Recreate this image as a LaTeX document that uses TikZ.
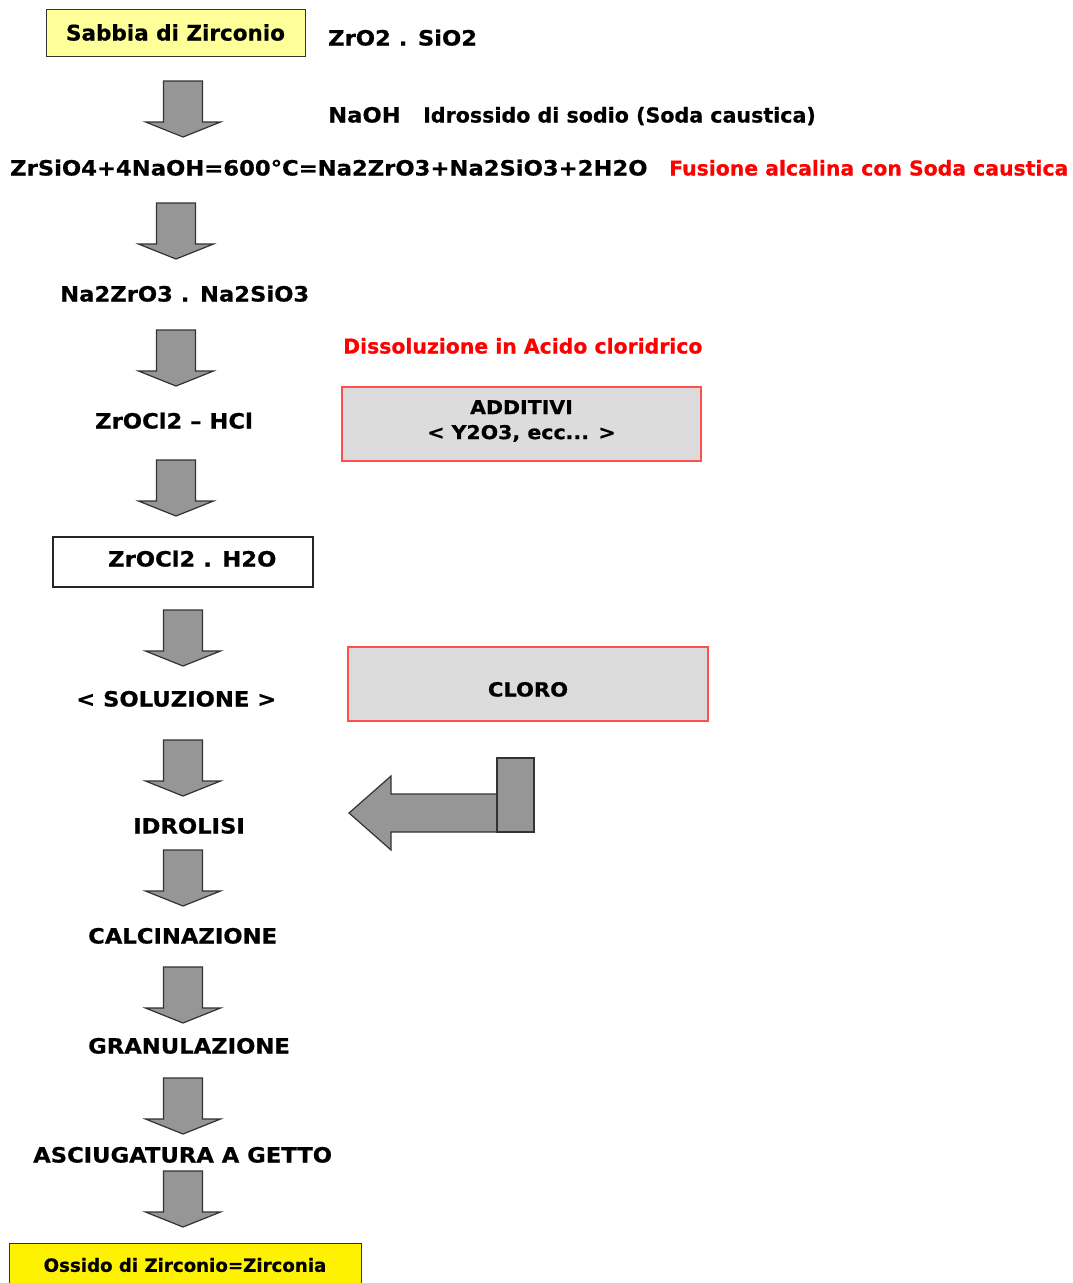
\documentclass[tikz,border=0pt]{standalone}
\usepackage{fontspec}
\setmainfont{DejaVu Sans}[FakeStretch=1.08, BoldFeatures={FakeBold=0.6}]
\newfontfamily\titlefont{DejaVu Sans}[BoldFeatures={FakeBold=0.6}]
\definecolor{paleyellow}{RGB}{255,255,153}
\definecolor{boxred}{RGB}{255,80,80}
\definecolor{boxgrey}{RGB}{220,220,220}
\definecolor{arrowgrey}{RGB}{150,150,150}

\begin{document}
\begin{tikzpicture}[x=1pt, y=-1pt,
  lbl/.style={inner sep=0pt, anchor=west, text height=15pt, text depth=0pt,
    font=\fontsize{21}{25}\selectfont\bfseries},
  prose/.style={lbl, font=\titlefont\fontsize{20.6}{25}\selectfont\bfseries},
  note/.style={lbl, text=red, font=\titlefont\fontsize{20.4}{25}\selectfont\bfseries},
  greybox/.style={draw=boxred, line width=1.8pt, fill=boxgrey, inner sep=0pt,
    align=center, font=\fontsize{19}{25}\selectfont\bfseries},
  blockarrow/.style={draw=black!80, fill=arrowgrey, line width=1.2pt, line join=miter}]
\useasboundingbox (0,0) rectangle (1073,1283);

% start and end boxes
\node[draw=black!80, line width=1pt, fill=paleyellow, minimum width=259, minimum height=47,
  font=\titlefont\fontsize{21.5}{25}\selectfont\bfseries] (sabbia) at (175.5,32.5) {Sabbia di Zirconio};
\node[draw=black!80, line width=1pt, fill=yellow, minimum width=352, minimum height=47, anchor=north] (ossido) at (185,1243) {};
\node[font=\titlefont\fontsize{18.2}{22}\selectfont\bfseries, inner sep=0pt] (ossidotxt) at (185,1265) {Ossido di Zirconio=Zirconia};

% texts
\node[lbl] (zircone) at (328,38) {ZrO2 . SiO2};
\node[lbl] (naoh) at (328,115) {NaOH};
\node[prose] (soda) at (423,115) {Idrossido di sodio (Soda caustica)};
\node[lbl] (reazione) at (10,168) {ZrSiO4+4NaOH=600°C=Na2ZrO3+Na2SiO3+2H2O};
\node[note] (fusione) at (669,168) {Fusione alcalina con Soda caustica};
\node[lbl] (silicati) at (60,294) {Na2ZrO3 . Na2SiO3};
\node[note] (dissoluzione) at (343,346) {Dissoluzione in Acido cloridrico};
\node[lbl] (hcl) at (95,421) {ZrOCl2 – HCl};
\node[greybox, minimum width=359, minimum height=74] (additivi) at (521.5,424) {};
\node[greybox, draw=none, fill=none] (additivitxt) at (521.5,421) {ADDITIVI\\\textless{} Y2O3, ecc... \textgreater};
\node[draw=black!85, line width=1.3pt, minimum width=260, minimum height=50] (ossicloruro) at (183,562) {};
\node[lbl] (ossiclorurotxt) at (108,559) {ZrOCl2 . H2O};
\node[lbl] (soluzione) at (76,699) {\textless{} SOLUZIONE \textgreater};
\node[greybox, minimum width=360, minimum height=74] (cloro) at (528,684) {};
\node[lbl, anchor=center, font=\fontsize{19.5}{25}\selectfont\bfseries] (clorotxt) at (528,689) {CLORO};
\node[lbl] (idrolisi) at (133,826) {IDROLISI};
\node[lbl] (calcinazione) at (88,936) {CALCINAZIONE};
\node[lbl] (granulazione) at (88,1046) {GRANULAZIONE};
\node[lbl] (asciugatura) at (33,1155) {ASCIUGATURA A GETTO};

% block arrows down
\foreach \cx/\ty in {183/81, 176/203, 176/330, 176/460, 183/610, 183/740, 183/850, 183/967, 183/1078, 183/1171}
  \draw[blockarrow] (\cx-19.5,\ty) -- (\cx+19.5,\ty) -- (\cx+19.5,\ty+41) -- (\cx+37.5,\ty+41)
    -- (\cx,\ty+56) -- (\cx-37.5,\ty+41) -- (\cx-19.5,\ty+41) -- cycle;

% cloro feed arrow
\draw[blockarrow] (349,813) -- (391,776) -- (391,794) -- (497,794) -- (497,832) -- (391,832)
  -- (391,850) -- cycle;
\draw[blockarrow] (497,758) rectangle (534,832);
\end{tikzpicture}
\end{document}
